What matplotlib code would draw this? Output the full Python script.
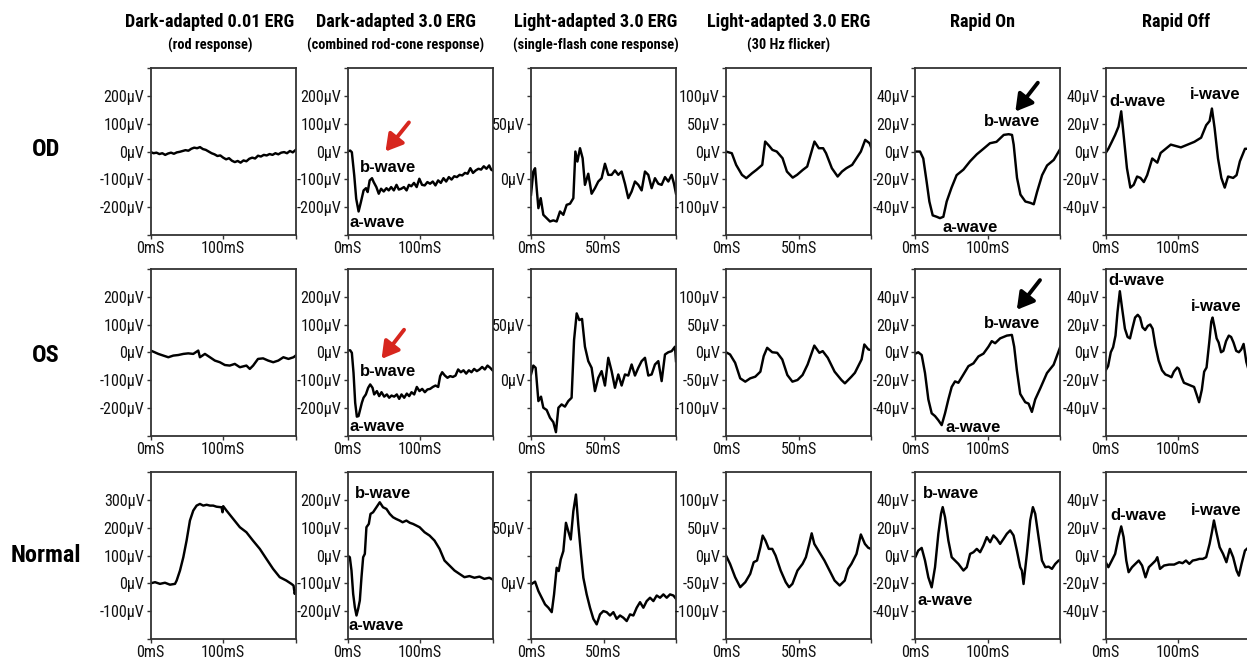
import matplotlib
matplotlib.use("Agg")
import matplotlib.pyplot as plt
from matplotlib import font_manager

W, H = 1247, 662


def _has_family(name, stretch="normal"):
    try:
        path = font_manager.findfont(font_manager.FontProperties(family=name, stretch=stretch),
                                     fallback_to_default=False)
    except Exception:
        return None
    return path


# choose the narrowest sans available (reference uses an Arial-Narrow-like face)
FONT_FAMILY = ["Liberation Sans", "DejaVu Sans"]
FONT_STRETCH = "normal"
SIZE_SCALE = 0.82
if _has_family("Liberation Sans Narrow"):
    FONT_FAMILY, SIZE_SCALE = ["Liberation Sans Narrow", "DejaVu Sans"], 1.0
elif _has_family("Roboto Condensed"):
    FONT_FAMILY, SIZE_SCALE = ["Roboto Condensed", "DejaVu Sans"], 0.97
else:
    p = _has_family("DejaVu Sans", "condensed")
    if p and "Condensed" in p:
        FONT_FAMILY, FONT_STRETCH, SIZE_SCALE = ["DejaVu Sans", "Liberation Sans"], "condensed", 0.86

plt.rcParams["font.family"] = FONT_FAMILY
plt.rcParams["font.stretch"] = FONT_STRETCH
ARIAL = ["Liberation Sans", "DejaVu Sans"]

row_labels = ["OD", "OS", "Normal"]
col_titles = ["Dark-adapted 0.01 ERG", "Dark-adapted 3.0 ERG", "Light-adapted 3.0 ERG",
              "Light-adapted 3.0 ERG", "Rapid On", "Rapid Off"]
col_subtitles = ["(rod response)", "(combined rod-cone response)",
                 "(single-flash cone response)", "(30 Hz flicker)", "", ""]

# ---------------- OD ----------------
od_rod_t = [0, 4, 8, 12, 16, 20, 24, 28, 32, 36, 40, 44, 48, 52, 56, 60, 64, 68, 72, 76, 80, 84, 88, 92, 96, 100,
            104, 108, 112, 116, 120, 124, 128, 132, 136, 140, 144, 148, 152, 156, 160, 164, 168, 172, 176, 180,
            184, 188, 192, 196, 200]
od_rod_v = [-2, -6, -4, -9, -6, -12, -7, -4, -8, -3, -1, 2, 5, 3, 10, 14, 12, 16, 9, 6, 0, -6, -10, -16, -14, -22,
            -28, -24, -33, -38, -34, -40, -32, -35, -26, -22, -25, -15, -18, -12, -14, -9, -12, -6, -10, -4,
            -2, -6, 2, -3, 6]

od_dark3_t = [0, 3.7, 6, 9.3, 12, 15.3, 18.5, 22.2, 25.5, 27.8, 30.6, 33.8, 36.1, 39.8, 43.1, 46.3, 50, 53.7, 56.9,
              60.2, 63.9, 67.6, 70.8, 74.1, 77.8, 81.5, 84.7, 88, 91.7, 95.4, 99.1, 102.8, 106.5, 110.2, 113.9,
              117.6, 121.3, 125, 128.7, 132.4, 136.1, 139.8, 143.5, 147.2, 150.9, 154.6, 158.3, 162, 165.7,
              169.4, 173.1, 176.9, 180.6, 184.3, 188, 191.7, 195.4, 198.1, 200]
od_dark3_v = [0, 3.6, -2.4, -86, -170, -216, -182, -140, -132, -146, -104, -96, -110, -128, -152, -134, -144, -132,
              -140, -128, -140, -120, -137, -134, -128, -140, -120, -125, -113, -128, -98, -120, -122, -110, -116,
              -108, -122, -104, -113, -96, -108, -92, -101, -89, -92, -84, -86, -77, -80, -60, -77, -68, -62, -65,
              -53, -62, -50, -65, -68]

od_photopic_t = [0, 1.6, 2.8, 3.9, 5.1, 6.7, 8.5, 10.8, 13.1, 15.4, 17.7, 20, 22.3, 24.6, 26.9, 29.2, 30.6, 32,
                 33.8, 35.6, 37.2, 39.5, 41.8, 44.1, 46.4, 48.7, 51, 53.3, 55.6, 57.9, 60.2, 62.5, 64.8, 67.1,
                 69.4, 71.7, 74, 76.3, 78.6, 80.9, 83.2, 85.5, 87.8, 90.1, 92.4, 94.7, 97, 98.6, 100]
od_photopic_v = [-14, 7, 10, -8, -26, -17, -32, -35, -38, -37, -38, -29, -32, -23, -22, -17, 25, 16, 28, 19, -5, 5,
                 -13, -8, -2, 1, 14, 4, 4, 8, 4, 7, -4, -17, -11, -2, -5, -10, 7, 4, -8, 1, -4, -5, 2, -2, 4, -4,
                 -13]

od_flicker_t = [0, 4, 7, 11, 14, 18, 21, 25, 27, 29.5, 32, 35, 39, 42, 46, 49, 53, 56, 61, 64, 67, 69, 73, 77, 80,
                83, 87, 90, 93, 96, 99, 100]
od_flicker_v = [0, -3, -24, -42, -48, -39, -33, -24, 18, 11, 3, 0, -12, -36, -47, -42, -33, -27, 18, 6, 6, -3, -30,
                -45, -36, -30, -24, -12, 0, 21, 15, 8]

od_on_t = [0, 6.5, 11, 15.7, 19.4, 24, 29.5, 34, 38.7, 43.3, 50, 57, 66.4, 75.6, 84.8, 94, 103, 112, 122, 128.8,
           133.4, 135.7, 140.3, 145, 151.8, 158.8, 163.4, 168, 174.9, 181.8, 191, 200]
od_on_v = [0, 0, -5, -22, -36, -46, -47, -48, -47, -36, -26, -17, -13, -7, -2, 2, 6, 7, 12, 12.5, 12, 5, -19, -31,
           -36, -37, -38, -29, -17, -10, -6, 2]

od_off_t = [0, 3.7, 8.4, 13, 17.7, 21.4, 24.7, 29.3, 34, 38.6, 43.3, 47.9, 52.6, 57.2, 64.2, 71.2, 75.8, 82.8,
            89.8, 96.7, 103.7, 113, 122.3, 131.6, 138.6, 143.3, 146.5, 150.2, 154.9, 159.5, 164.2, 168.8, 175.8,
            180.5, 185.1, 192.1, 197.2, 200]
od_off_v = [-1, 2, 7, 12, 18, 29, 12, -12, -26, -24, -18, -19, -22, -17, -5, -8, -1, 2, 5, 4, 3, 5, 7, 10, 19, 22,
            31, 17, -5, -19, -26, -18, -19, -17, -7, 2, 2, 3]

# ---------------- OS ----------------
os_rod_t = [0, 3.7, 10.6, 17.4, 24.3, 31.2, 38, 45, 51.8, 58.7, 65.6, 67.9, 74.8, 81.7, 88.5, 95.4, 102.3, 109, 116,
            123, 132, 136.7, 141.3, 148, 155, 162, 169, 176, 183, 190, 197, 200]
os_rod_v = [6, 2, -6, -12, -18, -12, -10, -6, -4, -6, 6, -18, -6, -18, -30, -36, -46, -48, -42, -54, -48, -60, -48,
            -24, -22, -30, -36, -30, -18, -24, -18, -12]

os_dark3_t = [0, 3.7, 6, 8.3, 10.6, 12.9, 15.2, 17.5, 19.8, 22.1, 25.3, 28.5, 31.3, 34.5, 36.8, 40.5, 43.7, 46.9,
              50.6, 54.3, 57.5, 60.7, 64.4, 68, 71.3, 74.5, 78.2, 81.8, 85.1, 88.3, 92, 95.6, 99.3, 103, 106.7,
              110.3, 114, 117.7, 121.4, 125.1, 127.8, 130.6, 134.3, 137.9, 141.6, 145.3, 149, 152.6, 156.3, 160,
              163.7, 167.4, 171, 174.7, 178.4, 182.1, 185.7, 189.4, 193.1, 196.8, 200]
os_dark3_v = [7, 7, -2, -74, -182, -232, -230, -206, -182, -164, -152, -128, -116, -128, -152, -140, -158, -144,
              -160, -152, -164, -156, -160, -152, -168, -152, -164, -149, -158, -144, -152, -125, -140, -132, -144,
              -134, -132, -125, -120, -125, -86, -72, -84, -92, -86, -89, -84, -62, -72, -65, -77, -65, -72, -60,
              -68, -62, -53, -62, -48, -56, -65]

os_photopic_t = [0, 1.6, 3.2, 5.1, 6.9, 8.5, 10.8, 13.1, 15.4, 17.2, 18.9, 21.1, 23.4, 25.7, 28, 29.7, 31.5, 33.3,
                 35.2, 37.2, 39.5, 41.8, 44.1, 46.4, 48.7, 51, 53.3, 55.6, 57.9, 60.2, 62.5, 64.8, 67.1, 69.4,
                 71.7, 74, 76.3, 78.6, 80.9, 83.2, 85.5, 87.8, 90.1, 92.4, 94.7, 97, 99.3, 100]
os_photopic_v = [5, 13, 11, -19, -15, -25, -27, -34, -38, -47, -25, -22, -24, -19, -16, 36, 60, 54, 55, 30, 17, 11,
                 -10, 2, 8, -5, 20, 8, -7, 5, -5, 5, 4, 14, 4, 11, 17, 20, 4, 5, 14, 17, -1, 23, 25, 26, 30, 17]

os_flicker_t = [0, 2.8, 6.3, 9.8, 13.3, 16.7, 20.2, 23.7, 26, 28.4, 31.9, 35.3, 38.8, 42.3, 45.8, 49.3, 52.8, 56.3,
                60.9, 64.4, 66.7, 70.2, 74.9, 79.6, 82, 86.5, 88.9, 91.2, 93.5, 95.4, 98.2, 100]
os_flicker_v = [0, -4, -19, -47, -53, -47, -44, -35, -7, 8, 0, -1, -13, -41, -53, -50, -41, -22, 12, -1, 2, -10,
                -35, -50, -56, -44, -37, -25, -13, 14, 5, 4]

os_on_t = [0, 4.1, 8.8, 13.4, 18, 22.6, 27.2, 31.8, 36.4, 41, 45.6, 50.2, 54.8, 59.4, 66.4, 73.3, 80.2, 87.1, 94,
           100.9, 105.5, 110.1, 117, 126.3, 133.2, 136.4, 140.1, 144.7, 151.6, 156.2, 160.8, 165.4, 172.4, 181.6,
           190.8, 200]
os_on_v = [-1, 0, -2, -15, -34, -44, -46, -49, -52.5, -44, -34, -25, -21, -22, -16, -10, -8, -3, -1, 4, 8, 6.5, 10,
           12, 12.5, 4, -13, -30, -36, -37, -43, -34, -26, -15, -9, 4]

os_off_t = [0, 3.3, 7, 10.2, 13.5, 16.3, 19.5, 22.8, 26.5, 30.2, 33.5, 36.7, 40.5, 44.2, 47.4, 50.7, 54.4, 58.1,
            61.4, 64.7, 68.4, 73, 77.7, 82.3, 87, 90.7, 94, 98.6, 100.9, 104.7, 107.9, 112.6, 117.2, 121.9, 125.1,
            128.8, 132.6, 135.8, 139.1, 142.8, 145.6, 147.4, 150.2, 153, 155.8, 159.1, 162.3, 166, 169.8, 173,
            176.3, 180, 183.7, 187, 190.2, 194, 196.7, 200]
os_off_v = [-13, -10, 0, 3.6, 12, 29, 44, 31, 17, 11, 10, 17, 25, 27, 25, 18, 16, 19, 20, 17, 5, -6, -13, -16, -17,
            -18, -14, -11, -12, -18, -22, -23, -24, -25, -30, -36, -27, -14, -11, 7, 22, 25, 18, 10, 7, 0, 1, 8,
            12, 11, 7, 1, 0, 2, 6, -7, -12, -14]

# ---------------- Normal ----------------
norm_rod_t = [0, 6, 12.8, 19.7, 26.6, 33.5, 35.8, 40.4, 45, 49.5, 54.1, 58.7, 63.3, 67.9, 72.5, 77.1, 81.7, 86.2,
              90.8, 97.7, 99.1, 100, 104.6, 113.8, 123, 132, 141, 150.5, 159.6, 168.8, 178, 187, 194, 197, 198.6,
              200]
norm_rod_v = [0, 4, -2, 2, -5, -2, 10, 46, 94, 154, 226, 262, 280, 286, 280, 283, 280, 280, 276, 274, 256, 278,
              262, 232, 202, 184, 154, 124, 88, 52, 22, 10, -2, -8, -38, -25]

norm_dark3_t = [0, 3.2, 5.5, 7.8, 10.1, 12.4, 14.7, 17, 19.3, 21.6, 23.9, 26.1, 29.4, 31.7, 35.3, 39.9, 44.5, 49,
                53.7, 58.3, 62.8, 67, 72, 76, 81.2, 86, 90.4, 95, 99.5, 106.3, 113.2, 120, 127, 133.8, 140.7,
                147.6, 154.4, 161.3, 168.2, 175, 182, 188.7, 195.6, 200]
norm_dark3_v = [0, -6, -54, -138, -186, -216, -192, -162, -78, -6, 6, 102, 114, 150, 156, 174, 192, 174, 168, 150,
                138, 132, 126, 120, 126, 118, 114, 108, 102, 84, 72, 54, 24, -18, -36, -54, -66, -78, -74, -80,
                -76, -84, -80, -86]

norm_photopic_t = [0, 2.8, 5.1, 7.4, 9.7, 12, 14.3, 15.9, 17.7, 19.1, 20.5, 22.3, 24.1, 25.7, 27.4, 29.2, 31,
                   32.6, 34.5, 36.1, 38.4, 40.7, 43, 45.3, 47.6, 49.9, 52.2, 54.5, 56.8, 59.1, 61.4, 63.7, 66, 68.3,
                   70.6, 72.9, 75.2, 77.5, 79.8, 82.1, 84.4, 86.7, 89, 91.3, 93.6, 95.9, 98.2, 100]
norm_photopic_v = [-1, 1.5, -7, -13, -19, -22, -26, -10, 14, 11, 21.5, 29, 54.5, 47, 39.5, 65, 80, 53, 26, 5, -10,
                   -22, -32, -37, -28, -25, -26, -29, -26, -32, -29, -31, -34, -28, -29, -22, -17, -22, -16, -13,
                   -16, -11, -13, -10, -13, -10, -11, -14]

norm_flicker_t = [0, 2.8, 6.3, 9.8, 13.3, 16.7, 19.1, 21.4, 23.7, 25.3, 27.2, 29.5, 31.9, 34.2, 37.7, 41.2, 43.5,
                  45.8, 49.3, 52.8, 55.1, 57.4, 59.1, 60.9, 64.4, 67.9, 71.4, 74.9, 78.4, 81.9, 84.2, 86.5, 90, 93,
                  95.8, 98.1, 100]
norm_flicker_v = [0, -15, -39, -57, -48, -33, -12, -9, 15, 36, 27, 12, 12, 0, -27, -48, -57, -51, -27, -15, -3, 21,
                  40, 21, 6, -9, -27, -45, -54, -45, -24, -15, 3, 38, 21, 14, 12]

norm_on_t = [0, 4.1, 8.8, 13.4, 18, 22.6, 27.2, 31.8, 35.5, 37.8, 41, 45.6, 50.2, 54.8, 59.4, 66.4, 71, 75.6, 80.2,
             84.8, 89.4, 94, 98.6, 103.2, 107.8, 112.4, 117, 121.7, 126.3, 130.9, 135.5, 140.1, 144.7, 147, 149.3,
             153.9, 158.5, 162.2, 165.4, 170, 174.7, 179.3, 183.9, 188.5, 193.1, 197.7, 200]
norm_on_v = [-1.2, 3.6, 5.5, -3.6, -15.7, -22.9, -8.4, 15.7, 30.1, 34.9, 27.7, 10.8, -1.2, -3.6, -6, -10.8, -8.4,
             1.2, 2.4, 4.8, 2.4, 7.2, 13.3, 9.6, 14.5, 12, 8.4, 12, 15.7, 18.1, 14.5, 3.6, -8.4, -10.8, -20.5, 1.2,
             25.3, 34.9, 30.1, 13.3, -3.6, -8.4, -8, -9.6, -6, -3.6, -3.1]

norm_off_t = [0, 3.7, 8.4, 13, 17.7, 21.4, 24.7, 28.4, 31.6, 36.3, 40.9, 45.6, 50.2, 54.9, 59.5, 64.2, 68.8, 71.2,
              74.9, 80.5, 87.4, 94.4, 101.4, 106, 110.7, 115.3, 120, 124.7, 129.3, 134, 138.6, 143.3, 146.5, 149.3,
              152.6, 157.2, 161.9, 166.5, 171.2, 175.8, 180.5, 183.7, 187.4, 192.1, 197.2]
norm_off_v = [-4.8, -8.4, -3.6, 1.2, 13.3, 21, 13.3, -3.6, -12, -8.4, -6, -3.6, -7.2, -15.7, -8.4, -6, -3.6, -1.2,
              -9.6, -7.2, -6.5, -6.5, -4.8, -5.5, -3.6, -6, -3.6, -3.1, -2.4, -2.4, -1.2, 8.4, 16.9, 25.3, 16.9, 6,
              1.2, -4.8, 4.8, -1.2, -10.8, -14.5, -6, 3.6, 6]

traces = [
    [(od_rod_t, od_rod_v), (od_dark3_t, od_dark3_v), (od_photopic_t, od_photopic_v),
     (od_flicker_t, od_flicker_v), (od_on_t, od_on_v), (od_off_t, od_off_v)],
    [(os_rod_t, os_rod_v), (os_dark3_t, os_dark3_v), (os_photopic_t, os_photopic_v),
     (os_flicker_t, os_flicker_v), (os_on_t, os_on_v), (os_off_t, os_off_v)],
    [(norm_rod_t, norm_rod_v), (norm_dark3_t, norm_dark3_v), (norm_photopic_t, norm_photopic_v),
     (norm_flicker_t, norm_flicker_v), (norm_on_t, norm_on_v), (norm_off_t, norm_off_v)],
]

# axis ranges (µV, ms)
col_xmax = [200, 200, 100, 100, 200, 200]
col_xstep = [100, 100, 50, 50, 100, 100]
col_ylim = [(-300, 300), (-300, 300), (-50, 100), (-150, 150), (-60, 60), (-60, 60)]
col_ystep = [100, 100, 25, 50, 20, 20]
col_ylabel_step = [100, 100, 50, 50, 20, 20]
normal_rod_ylim = (-200, 400)

# layout (pixels)
col_left = [150.7, 347.5, 531.0, 726.0, 915.3, 1105.7]
col_width = 145.0
row_top = [68.3, 269.0, 472.3]
row_height = 166.5
title_x = [210, 396, 596, 789, 983, 1176]
row_label_y = [150, 355, 555]
row_label_x = 46

S = SIZE_SCALE
fig = plt.figure(figsize=(W / 100, H / 100), dpi=100)
fig.patch.set_facecolor("white")

axes = {}
for r in range(3):
    for c in range(6):
        ax = fig.add_axes([col_left[c] / W, 1 - (row_top[r] + row_height) / H, col_width / W, row_height / H])
        axes[(r, c)] = ax
        t, v = traces[r][c]
        ax.plot(t, v, color="black", lw=1.75, solid_joinstyle="round")
        ylo, yhi = normal_rod_ylim if (r == 2 and c == 0) else col_ylim[c]
        ax.set_xlim(0, col_xmax[c])
        ax.set_ylim(ylo, yhi)
        xt = [0, col_xstep[c], 2 * col_xstep[c]]
        ax.set_xticks(xt)
        ax.set_xticklabels(["0mS", f"{col_xstep[c]}mS", ""])
        st = col_ystep[c]
        yt = list(range(ylo, yhi + 1, st))
        ylab = []
        for y in yt:
            if ylo < y < yhi and y % col_ylabel_step[c] == 0:
                ylab.append(f"{y}µV")
            else:
                ylab.append("")
        ax.set_yticks(yt)
        ax.set_yticklabels(ylab)
        ax.tick_params(axis="both", direction="out", length=3, width=1.0, color="#333333",
                       labelsize=12 * S, pad=1.5, labelcolor="#111111")
        for s in ax.spines.values():
            s.set_linewidth(1.3)
            s.set_color("#333333")

# titles
for c in range(6):
    fig.text(title_x[c] / W, 1 - 22 / H, col_titles[c], ha="center", va="center",
             fontsize=13.5 * S, fontweight="bold")
    if col_subtitles[c]:
        fig.text(title_x[c] / W, 1 - 45 / H, col_subtitles[c], ha="center", va="center",
                 fontsize=10.7 * S, fontweight="bold")

for r in range(3):
    fig.text(row_label_x / W, 1 - row_label_y[r] / H, row_labels[r], ha="center", va="center",
             fontsize=18 * S, fontweight="bold")


# wave annotations
def label(ax, x, y, s):
    ax.text(x, y, s, ha="center", va="center", fontsize=12, fontweight="bold",
            family=ARIAL, fontstretch="normal", clip_on=False)


label(axes[(0, 1)], 56, -56, "b-wave")
label(axes[(0, 1)], 41, -257, "a-wave")
label(axes[(1, 1)], 56, -68, "b-wave")
label(axes[(1, 1)], 41, -269, "a-wave")
label(axes[(2, 1)], 49, 222, "b-wave")
label(axes[(2, 1)], 40, -252, "a-wave")

label(axes[(0, 4)], 134, 21.6, "b-wave")
label(axes[(0, 4)], 76, -55, "a-wave")
label(axes[(1, 4)], 134, 21, "b-wave")
label(axes[(1, 4)], 80, -54, "a-wave")
label(axes[(2, 4)], 49, 44.6, "b-wave")
label(axes[(2, 4)], 41, -32.5, "a-wave")

label(axes[(0, 5)], 44, 36, "d-wave")
label(axes[(0, 5)], 151, 40.8, "i-wave")
label(axes[(1, 5)], 43, 52, "d-wave")
label(axes[(1, 5)], 152.5, 33, "i-wave")
label(axes[(2, 5)], 45.5, 29, "d-wave")
label(axes[(2, 5)], 152.5, 32.5, "i-wave")


def arrow(ax, tail, head, color):
    ax.annotate("", xy=head, xytext=tail,
                arrowprops=dict(arrowstyle="-|>,head_length=0.55,head_width=0.32", color=color, lw=2.8,
                                shrinkA=0, shrinkB=0, mutation_scale=18))


arrow(axes[(0, 1)], (84.7, 105), (52.4, 0), "#d7261e")
arrow(axes[(1, 1)], (78, 81), (47, -24), "#d7261e")
arrow(axes[(0, 4)], (169, 49.6), (138, 28.8), "black")
arrow(axes[(1, 4)], (172, 52), (140, 30.6), "black")

fig.savefig("out.png", dpi=100, facecolor="white")
